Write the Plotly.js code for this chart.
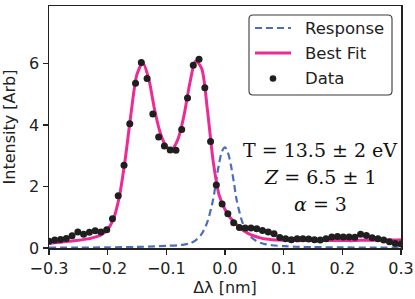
<!DOCTYPE html>
<html>
<head>
<meta charset="utf-8">
<script src="https://cdn.plot.ly/plotly-3.0.1.min.js"></script>
<style>html,body{margin:0;padding:0;background:#fff;}#chart{width:415px;height:299px;}</style>
</head>
<body>
<div id="chart"></div>
<script>
// Measured data points
const dataX = [-0.3000,-0.2902,-0.2803,-0.2705,-0.2607,-0.2508,-0.2410,-0.2311,-0.2213,-0.2115,
  -0.2016,-0.1918,-0.1820,-0.1721,-0.1623,-0.1525,-0.1426,-0.1328,-0.1230,-0.1131,
  -0.1033,-0.0934,-0.0836,-0.0738,-0.0639,-0.0541,-0.0443,-0.0344,-0.0246,-0.0148,
  -0.0049,0.0049,0.0148,0.0246,0.0344,0.0443,0.0541,0.0639,0.0738,0.0836,
  0.0934,0.1033,0.1131,0.1230,0.1328,0.1426,0.1525,0.1623,0.1721,0.1820,
  0.1918,0.2016,0.2115,0.2213,0.2311,0.2410,0.2508,0.2607,0.2705,0.2803,
  0.2902,0.3000];
const dataY = [0.22,0.26,0.28,0.31,0.40,0.52,0.45,0.51,0.56,0.52,
  0.59,0.95,1.70,2.69,4.04,5.36,6.03,5.51,4.36,3.61,
  3.32,3.19,3.18,3.85,4.88,5.94,6.14,5.21,3.46,2.05,
  1.43,1.11,0.82,0.67,0.65,0.65,0.63,0.57,0.52,0.46,
  0.34,0.30,0.27,0.30,0.30,0.29,0.27,0.26,0.30,0.36,
  0.37,0.36,0.36,0.35,0.45,0.41,0.33,0.30,0.26,0.20,
  0.15,0.13];

// Best fit curve
const fitX = [-0.30,-0.29,-0.28,-0.27,-0.26,-0.25,-0.24,-0.23,-0.22,-0.21,
  -0.20,-0.19,-0.18,-0.17,-0.16,-0.15,-0.14,-0.13,-0.12,-0.11,
  -0.10,-0.09,-0.08,-0.07,-0.06,-0.05,-0.04,-0.03,-0.02,-0.01,
  0.00,0.01,0.02,0.03,0.04,0.05,0.06,0.07,0.08,0.09,
  0.10,0.11,0.12,0.13,0.14,0.15,0.16,0.17,0.18,0.19,
  0.20,0.21,0.22,0.23,0.24,0.25,0.26,0.27,0.28,0.29,0.30];
const fitY = [0.15,0.17,0.19,0.21,0.23,0.25,0.28,0.31,0.36,0.44,
  0.60,0.95,1.68,2.90,4.40,5.65,6.02,5.50,4.50,3.72,
  3.30,3.22,3.55,4.30,5.35,6.08,5.85,4.50,2.80,1.72,
  1.25,0.96,0.76,0.58,0.47,0.39,0.33,0.29,0.27,0.26,
  0.25,0.25,0.24,0.24,0.24,0.24,0.24,0.24,0.24,0.24,
  0.24,0.24,0.24,0.25,0.25,0.25,0.25,0.26,0.26,0.26,0.27];

// Instrument response
const respX = [-0.30,-0.25,-0.20,-0.15,-0.12,-0.10,-0.08,-0.07,-0.06,-0.05,-0.04,-0.03,-0.02,-0.015,-0.01,-0.005,
  0.00,0.005,0.01,0.015,0.02,0.03,0.04,0.05,0.06,0.07,0.08,0.10,0.12,0.15,0.20,0.25,0.30];
const respY = [0.01,0.015,0.02,0.035,0.05,0.07,0.09,0.11,0.15,0.25,0.45,0.85,1.60,2.20,2.75,3.15,
  3.27,3.10,2.70,2.15,1.55,0.82,0.45,0.27,0.17,0.12,0.09,0.06,0.04,0.03,0.02,0.01,0.01];

const xTicks = [-0.3,-0.2,-0.1,0.0,0.1,0.2,0.3];
const yTicks = [0,2,4,6];
const legendNames = ["Response", "Best Fit", "Data"];
const fitText = ["T = 13.5 ± 2 eV", "<i>Z</i> = 6.5 ± 1", "<i>α</i> = 3"];

const FONT = "DejaVu Sans, sans-serif";
const SERIF = "DejaVu Serif, serif";
const C_RESP = "#4C6DBE", C_FIT = "#EE2A96", C_DATA = "#1f1f1f";

const traces = [
  {x: respX, y: respY, name: legendNames[0], type: "scatter", mode: "lines",
   line: {color: C_RESP, width: 2.2, dash: "7px,4px", shape: "spline", smoothing: 0.8}},
  {x: fitX, y: fitY, name: legendNames[1], type: "scatter", mode: "lines",
   line: {color: C_FIT, width: 3, shape: "spline", smoothing: 0.8}},
  {x: dataX, y: dataY, name: legendNames[2], type: "scatter", mode: "markers",
   marker: {color: C_DATA, size: 7}}
];

// plot-area geometry (pixels) for placing the legend box
const M = {l: 49, r: 14, t: 6, b: 51};
const W = 415, H = 299;
const PW = W - M.l - M.r, PH = H - M.t - M.b;
const px = v => (v - M.l) / PW;
const py = v => (H - M.b - v) / PH;

function roundRect(x0, y0, x1, y1, r) {
  const rx = r / PW, ry = r / PH;
  const X0 = px(x0), X1 = px(x1), Y0 = py(y0), Y1 = py(y1); // Y0 top, Y1 bottom
  return `M${X0 + rx},${Y0} L${X1 - rx},${Y0} Q${X1},${Y0} ${X1},${Y0 - ry} ` +
         `L${X1},${Y1 + ry} Q${X1},${Y1} ${X1 - rx},${Y1} L${X0 + rx},${Y1} ` +
         `Q${X0},${Y1} ${X0},${Y1 + ry} L${X0},${Y0 - ry} Q${X0},${Y0} ${X0 + rx},${Y0} Z`;
}

const legRows = [28, 53, 78.5];
const shapes = [
  {type: "path", xref: "paper", yref: "paper", layer: "above", path: roundRect(249, 15, 392, 95, 4),
   fillcolor: "rgba(255,255,255,0.85)", line: {color: "#3a3a3a", width: 1.1}},
  {type: "line", xref: "paper", yref: "paper", layer: "above", x0: px(255), x1: px(291), y0: py(legRows[0]), y1: py(legRows[0]),
   line: {color: C_RESP, width: 2.2, dash: "7px,4px"}},
  {type: "line", xref: "paper", yref: "paper", layer: "above", x0: px(255), x1: px(291), y0: py(legRows[1]), y1: py(legRows[1]),
   line: {color: C_FIT, width: 3}},
  {type: "circle", xref: "paper", yref: "paper", layer: "above",
   x0: px(273 - 3.3), x1: px(273 + 3.3), y0: py(legRows[2] - 3.3), y1: py(legRows[2] + 3.3),
   fillcolor: C_DATA, line: {color: C_DATA, width: 0}}
];

const annotations = legendNames.map((n, i) => ({
  xref: "paper", yref: "paper", x: px(303), y: py(legRows[i]), xanchor: "left", yanchor: "middle",
  showarrow: false, text: n, font: {family: FONT, size: 16.5, color: "#222"}
})).concat(fitText.map((t, i) => ({
  xref: "paper", yref: "paper", x: px(320), y: py([150, 177, 203.5][i]), xanchor: "center", yanchor: "middle",
  showarrow: false, text: t, font: {family: SERIF, size: 19, color: "#111"}
})));

const axisCommon = {
  showline: true, linecolor: "#222", linewidth: 1.5, mirror: true,
  ticks: "outside", ticklen: 5, tickwidth: 1.3, tickcolor: "#222",
  showgrid: false, zeroline: false,
  tickfont: {family: FONT, size: 16, color: "#222"}
};

const layout = {
  width: W, height: H,
  margin: M,
  paper_bgcolor: "#fff", plot_bgcolor: "#fff",
  showlegend: false,
  xaxis: Object.assign({}, axisCommon, {range: [-0.3, 0.3], tickvals: xTicks, tickformat: ".1f",
    title: {text: "Δλ [nm]", font: {family: FONT, size: 16, color: "#222"}, standoff: 3}}),
  yaxis: Object.assign({}, axisCommon, {range: [0, 7.87], tickvals: yTicks,
    title: {text: "Intensity [Arb]", font: {family: FONT, size: 16, color: "#222"}, standoff: 9}}),
  shapes: shapes,
  annotations: annotations
};

Plotly.newPlot("chart", traces, layout, {displayModeBar: false, staticPlot: true});
</script>
</body>
</html>
